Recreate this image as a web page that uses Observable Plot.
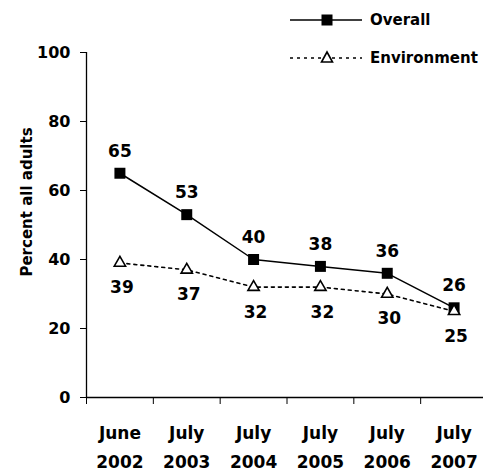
<!DOCTYPE html>
<html><head><meta charset="utf-8">
<script src="https://cdn.jsdelivr.net/npm/d3@7"></script>
<script src="https://cdn.jsdelivr.net/npm/@observablehq/plot@0.6"></script>
<style>
body{margin:0;background:#fff;font-family:"DejaVu Sans",sans-serif;}
#wrap{position:relative;width:483px;height:472px;}
#legend{position:absolute;left:0;top:0;}
</style></head>
<body><div id="wrap"><div id="chart"></div><svg id="legend" width="483" height="80"></svg></div>
<script>
const categories = ["June\n2002","July\n2003","July\n2004","July\n2005","July\n2006","July\n2007"];
const overall = [65,53,40,38,36,26];
const environment = [39,37,32,32,30,25];
const yTicks = [0,20,40,60,80,100];
const seriesNames = ["Overall","Environment"];
const yLabel = "Percent all adults";

const ov = overall.map((v,i)=>({x:i+0.5,y:v}));
const en = environment.map((v,i)=>({x:i+0.5,y:v}));
const cats = categories.map((c,i)=>({x:i+0.5,label:c}));
const FF = "'DejaVu Sans', sans-serif";

const plot = Plot.plot({
  width:483, height:472,
  marginLeft:86, marginRight:-4, marginTop:52, marginBottom:75,
  style:{fontFamily:FF, fontWeight:"bold", fontSize:"16px", color:"#000", background:"#fff", overflow:"visible"},
  x:{type:"linear", domain:[0,6]},
  y:{domain:[0,100]},
  marks:[
    Plot.axisY({ticks:yTicks, tickSize:6, tickPadding:10, label:null, fontSize:16, fontWeight:"bold"}),
    Plot.axisX({ticks:d3.range(7), tickSize:7, tickFormat:()=>"", label:null}),
    Plot.ruleX([0],{y1:0,y2:100,stroke:"#000",strokeWidth:1.3}),
    Plot.ruleY([0],{stroke:"#000",strokeWidth:1.3}),
    Plot.text(cats,{x:"x",y:0,text:"label",dy:47,lineHeight:1.65,fontSize:17,fontWeight:"bold",fill:"#000"}),
    Plot.text([yLabel],{frameAnchor:"left",rotate:-90,textAnchor:"middle",dx:-59,dy:-23,fontSize:15,fontWeight:"bold",fill:"#000"}),
    Plot.line(en,{x:"x",y:"y",stroke:"#000",strokeWidth:1.6,strokeDasharray:"3,4"}),
    Plot.line(ov,{x:"x",y:"y",stroke:"#000",strokeWidth:1.5}),
    Plot.dot(ov,{x:"x",y:"y",symbol:"square",r:6.2,fill:"#000",stroke:"none"}),
    Plot.dot(en,{x:"x",y:"y",symbol:"triangle",r:4.2,fill:"#fff",stroke:"#000",strokeWidth:1.6}),
    Plot.text(ov,{x:"x",y:"y",text:d=>String(d.y),dy:-22,fontSize:17,fontWeight:"bold",fill:"#000"}),
    Plot.text(en,{x:"x",y:"y",text:d=>String(d.y),dy:25,dx:2,fontSize:17,fontWeight:"bold",fill:"#000"})
  ]
});
document.getElementById("chart").appendChild(plot);

// legend
const lg = d3.select("#legend");
const rows = [{y:20,dash:null,sym:"square"},{y:58,dash:"3,4",sym:"triangle"}];
rows.forEach((r,i)=>{
  lg.append("line").attr("x1",290).attr("x2",362).attr("y1",r.y).attr("y2",r.y)
    .attr("stroke","#000").attr("stroke-width",1.5).attr("stroke-dasharray",r.dash);
  if(r.sym==="square"){
    lg.append("rect").attr("x",321.5).attr("y",r.y-5.5).attr("width",11).attr("height",11).attr("fill","#000");
  } else {
    lg.append("path").attr("d",`M327,${r.y-6}L332.5,${r.y+4}L321.5,${r.y+4}Z`).attr("fill","#fff").attr("stroke","#000").attr("stroke-width",1.6);
  }
  lg.append("text").attr("x",370).attr("y",r.y).attr("dy","0.35em").attr("font-size",15).attr("font-weight","bold")
    .attr("font-family",FF).text(seriesNames[i]);
});
</script></body></html>
